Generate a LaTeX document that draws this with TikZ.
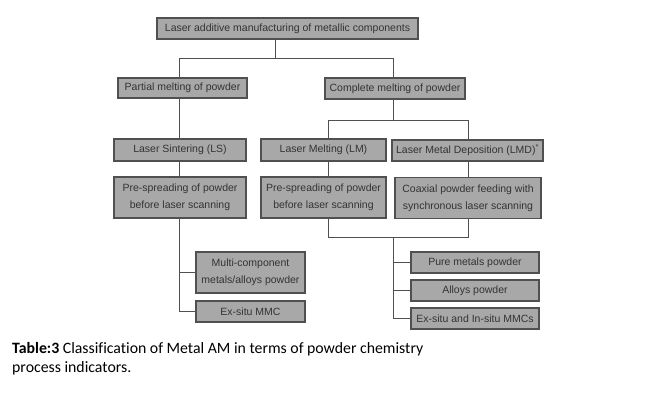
\documentclass[tikz,border=0pt]{standalone}
\usepackage{fontspec}
\setmainfont{Liberation Sans}
\newfontfamily\capfont[Ligatures={NoCommon}]{Carlito}
\definecolor{boxfill}{HTML}{A8A8A8}
\definecolor{boxline}{HTML}{505050}
\definecolor{textgray}{HTML}{333333}
\begin{document}
\begin{tikzpicture}[x=1pt,y=-1pt,
  box/.style={draw=boxline, fill=boxfill, line width=1.2pt, inner sep=0pt,
    font=\fontsize{10.5}{17}\selectfont, text=textgray, align=center},
  conn/.style={draw=boxline, line width=1pt},
  captext/.style={anchor=base west, inner sep=0pt, font=\capfont\fontsize{15.8}{19}\selectfont, text=black}]
\useasboundingbox (0,0) rectangle (649,410);
\fill[white] (0,0) rectangle (649,410);
% boxes
\node[box, minimum width=261pt, minimum height=21pt] (top) at (287.5,28.5) {Laser additive manufacturing of metallic components};
\node[box, minimum width=129pt, minimum height=20pt] (partial) at (182.5,88) {Partial melting of powder};
\node[box, minimum width=140pt, minimum height=21pt] (complete) at (395,88.5) {Complete melting of powder};
\node[box, minimum width=132pt, minimum height=22pt] (LS) at (180,150) {Laser Sintering (LS)};
\node[box, minimum width=125pt, minimum height=22pt] (LM) at (323.5,150) {Laser Melting (LM)};
\node[box, minimum width=151pt, minimum height=21pt] (LMD) at (467.5,150.5) {Laser Metal Deposition (LMD)\textsuperscript{*}};
\node[box, minimum width=132pt, minimum height=41pt] (LSd) at (180,197.5) {Pre-spreading of powder\\before laser scanning};
\node[box, minimum width=125pt, minimum height=41pt] (LMd) at (323.5,197.5) {Pre-spreading of powder\\before laser scanning};
\node[box, minimum width=146pt, minimum height=41pt] (LMDd) at (468,198) {Coaxial powder feeding with\\synchronous laser scanning};
\node[box, minimum width=109pt, minimum height=41pt] (multi) at (250.5,272.5) {Multi-component\\metals/alloys powder};
\node[box, minimum width=109pt, minimum height=21pt] (exmmc) at (250.5,311.5) {Ex-situ MMC};
\node[box, minimum width=128pt, minimum height=21pt] (pure) at (475,262.5) {Pure metals powder};
\node[box, minimum width=128pt, minimum height=21pt] (alloys) at (475,290.5) {Alloys powder};
\node[box, minimum width=128pt, minimum height=21pt] (exin) at (475,318.5) {Ex-situ and In-situ MMCs};
% junction coordinates
\coordinate (jt) at (275,58.5);
\coordinate (jl) at (179,58.5);
\coordinate (jr) at (393,58.5);
\coordinate (jc) at (393,120);
\coordinate (jlm) at (328,120);
\coordinate (jlmd) at (468,120);
\coordinate (jb) at (393,237);
% connectors
\draw[conn] (top.south -| jt) -- (jt);
\draw[conn] (partial.north -| jl) -- (jl) -- (jr) -- (complete.north -| jr);
\draw[conn] (complete.south -| jc) -- (jc);
\draw[conn] (LM.north -| jlm) -- (jlm) -- (jlmd) -- (LMD.north -| jlmd);
\draw[conn] (partial.south -| jl) -- (LS.north -| jl);
\draw[conn] (LS.south -| jl) -- (LSd.north -| jl);
\draw[conn] (LSd.south -| jl) |- (exmmc.west);
\draw[conn] (jl |- multi.west) -- (multi.west);
\draw[conn] (LM.south -| jlm) -- (LMd.north -| jlm);
\draw[conn] (LMD.south -| jlmd) -- (LMDd.north -| jlmd);
\draw[conn] (LMd.south -| jlm) -- (jlm |- jb) -- (jlmd |- jb) -- (LMDd.south -| jlmd);
\draw[conn] (jb) |- (exin.west);
\draw[conn] (jb |- pure.west) -- (pure.west);
\draw[conn] (jb |- alloys.west) -- (alloys.west);
% caption
\node[captext] (cap1) at (12,353) {\textbf{Table:3} Classification of Metal AM in terms of powder chemistry};
\node[captext] (cap2) at (12,372.5) {process indicators.};
\end{tikzpicture}
\end{document}
